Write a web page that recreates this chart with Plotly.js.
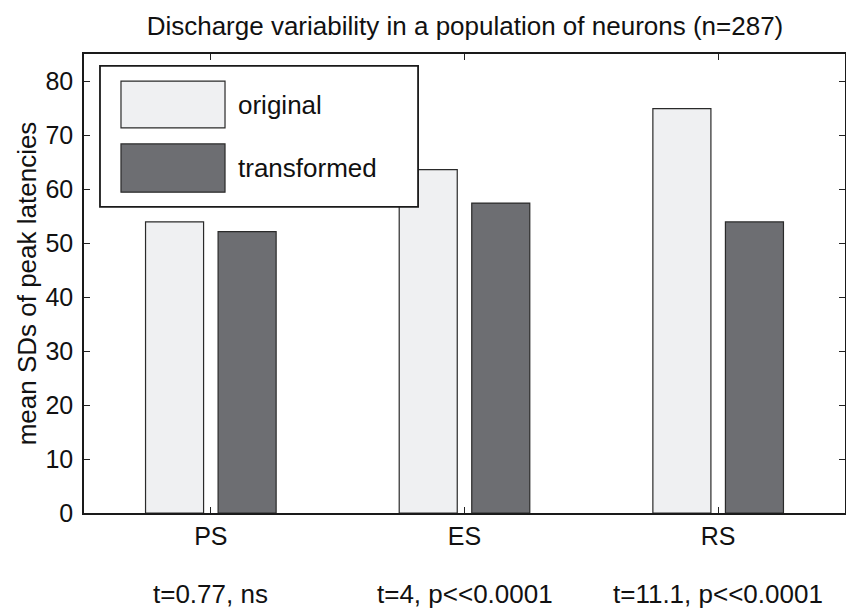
<!DOCTYPE html>
<html>
<head>
<meta charset="utf-8">
<script src="https://cdn.plot.ly/plotly-3.0.1.min.js"></script>
<style>body{margin:0;padding:0;background:#fff}#chart{width:846px;height:608px}</style>
</head>
<body>
<div id="chart"></div>
<script>
const categories = ['PS', 'ES', 'RS'];
const originalValues = [53.9, 63.6, 74.9];
const transformedValues = [52.1, 57.4, 53.9];
const seriesNames = ['original', 'transformed'];
const statLabels = ['t=0.77, ns', 't=4, p<<0.0001', 't=11.1, p<<0.0001'];
const yTickValues = [0, 10, 20, 30, 40, 50, 60, 70, 80];

const FONT = 'Liberation Sans, Arial, Helvetica, sans-serif';
const colors = ['#eff0f2', '#6d6e72'];
const edge = '#2a2a2a';
const TXT = '#111111';

const traces = [
  {type: 'bar', x: categories, y: originalValues, name: seriesNames[0],
   marker: {color: colors[0], line: {color: edge, width: 1.2}}, hoverinfo: 'none'},
  {type: 'bar', x: categories, y: transformedValues, name: seriesNames[1],
   marker: {color: colors[1], line: {color: edge, width: 1.2}}, hoverinfo: 'none'}
];

const legendShapes = [
  {type: 'rect', xref: 'paper', yref: 'paper', x0: 0.021, x1: 0.439, y0: 0.667, y1: 0.974,
   fillcolor: '#ffffff', line: {color: '#1a1a1a', width: 1.8}},
  {type: 'rect', xref: 'paper', yref: 'paper', x0: 0.0486, x1: 0.1853, y0: 0.839, y1: 0.941,
   fillcolor: colors[0], line: {color: edge, width: 1.2}},
  {type: 'rect', xref: 'paper', yref: 'paper', x0: 0.0486, x1: 0.1853, y0: 0.699, y1: 0.804,
   fillcolor: colors[1], line: {color: edge, width: 1.2}}
];

const annotations = [
  {xref: 'paper', yref: 'paper', x: 0.1997, y: 0.889, xanchor: 'left', yanchor: 'middle',
   text: seriesNames[0], showarrow: false, font: {family: FONT, size: 26, color: TXT}},
  {xref: 'paper', yref: 'paper', x: 0.1997, y: 0.752, xanchor: 'left', yanchor: 'middle',
   text: seriesNames[1], showarrow: false, font: {family: FONT, size: 26, color: TXT}}
];
categories.forEach((c, i) => {
  annotations.push({xref: 'x', yref: 'paper', x: c, y: -0.176, xanchor: 'center', yanchor: 'middle',
    text: statLabels[i].replace(/</g, '&lt;'), showarrow: false, font: {family: FONT, size: 26, color: TXT}});
});

const layout = {
  width: 846, height: 608,
  margin: {l: 84, r: 1, t: 54, b: 95},
  paper_bgcolor: '#ffffff', plot_bgcolor: '#ffffff',
  font: {family: FONT, size: 25, color: TXT},
  title: {text: 'Discharge variability in a population of neurons (n=287)',
    font: {family: FONT, size: 26, color: TXT}, x: 0.5496, xanchor: 'center', y: 0.958, yanchor: 'middle'},
  showlegend: false,
  barmode: 'group', bargap: 0.428, bargroupgap: 0.2,
  xaxis: {type: 'category', range: [-0.5, 2.5], ticks: 'inside', ticklen: 6, tickcolor: '#222',
    showline: true, linecolor: '#1a1a1a', linewidth: 1.8, mirror: 'ticks', showgrid: false,
    zeroline: false, tickfont: {family: FONT, size: 25, color: TXT}, fixedrange: true},
  yaxis: {range: [0, 85], tickvals: yTickValues, ticks: 'inside', ticklen: 6, tickcolor: '#222',
    showline: true, linecolor: '#1a1a1a', linewidth: 1.8, mirror: 'ticks', showgrid: false,
    zeroline: false, tickfont: {family: FONT, size: 25, color: TXT}, ticklabelstandoff: 4,
    title: {text: 'mean SDs of peak latencies', font: {family: FONT, size: 26, color: TXT}, standoff: 1},
    fixedrange: true},
  shapes: legendShapes,
  annotations: annotations
};

Plotly.newPlot('chart', traces, layout, {displayModeBar: false, staticPlot: true});
</script>
</body>
</html>
